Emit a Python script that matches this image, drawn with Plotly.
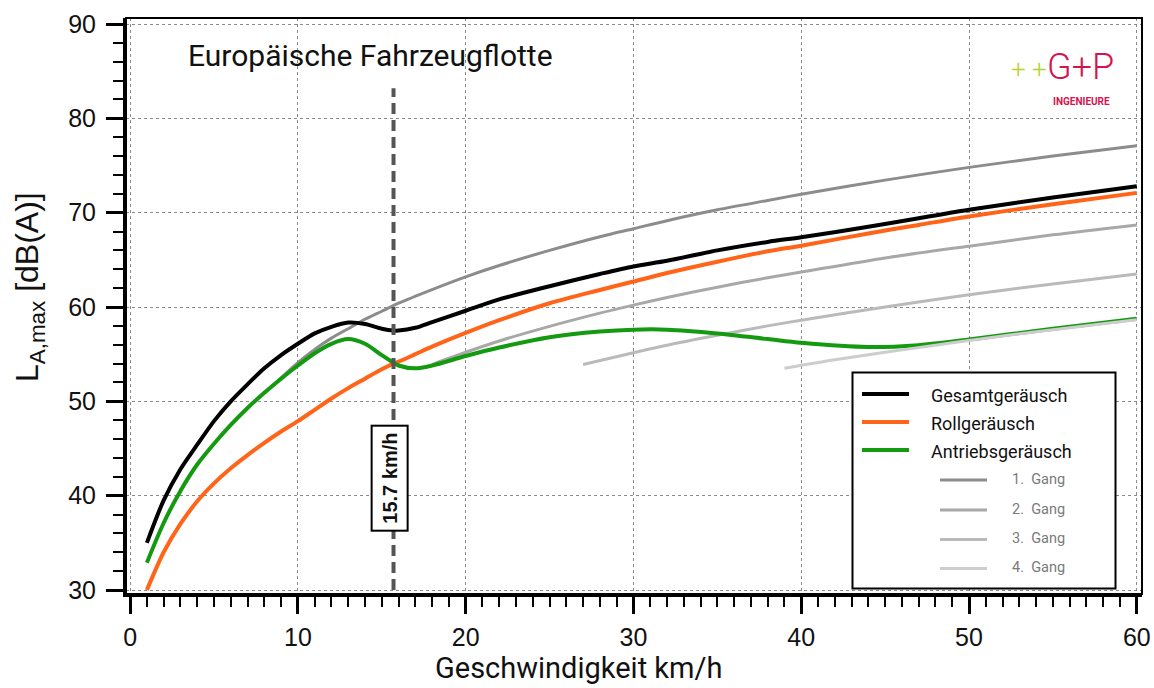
import plotly.graph_objects as go

# ---------------- data ----------------
speed = [1, 2, 3, 4, 5, 6, 7, 8, 9, 10, 11, 12, 13, 14, 15, 15.7, 16, 17, 18, 20, 22, 25, 28, 30, 32, 35, 38, 40, 44, 47, 50, 55, 60]
gesamt = [35.0, 39.5, 42.8, 45.4, 47.9, 50.0, 51.8, 53.5, 54.9, 56.1, 57.2, 57.9, 58.35, 58.2, 57.7, 57.5, 57.5, 57.8, 58.4, 59.6, 60.8, 62.2, 63.5, 64.3, 64.9, 66.0, 66.9, 67.4, 68.5, 69.4, 70.3, 71.6, 72.8]
roll = [30.0, 34.0, 37.0, 39.4, 41.3, 42.9, 44.3, 45.6, 46.8, 47.9, 49.1, 50.3, 51.4, 52.4, 53.4, 54.0, 54.2, 55.0, 55.8, 57.25, 58.6, 60.4, 61.8, 62.7, 63.6, 64.8, 65.9, 66.5, 67.8, 68.7, 69.6, 70.9, 72.1]
antrieb = [32.9, 37.1, 40.5, 43.3, 45.5, 47.5, 49.3, 50.9, 52.4, 53.8, 55.1, 56.1, 56.6, 56.1, 54.9, 54.1, 53.8, 53.5, 53.8, 54.8, 55.7, 56.8, 57.4, 57.6, 57.6, 57.2, 56.6, 56.2, 55.75, 55.95, 56.55, 57.7, 58.75]

gang1_speed = [8, 9, 10, 11, 12, 13, 14, 15, 16, 18, 20, 22, 25, 28, 30, 32, 35, 38, 40, 45, 50, 55, 60]
gang1 = [50.9, 52.5, 54.1, 55.5, 56.7, 57.7, 58.7, 59.55, 60.4, 61.85, 63.2, 64.4, 66.0, 67.45, 68.3, 69.15, 70.3, 71.3, 71.95, 73.45, 74.8, 76.0, 77.1]
gang2_speed = [18, 20, 22, 25, 28, 30, 32, 35, 38, 40, 45, 50, 55, 60]
gang2 = [53.9, 55.2, 56.4, 57.95, 59.35, 60.2, 61.0, 62.1, 63.1, 63.7, 65.2, 66.45, 67.65, 68.7]
gang3_speed = [27, 30, 32, 35, 38, 40, 45, 50, 55, 60]
gang3 = [53.9, 55.15, 55.95, 57.0, 58.0, 58.6, 60.0, 61.3, 62.45, 63.5]
gang4_speed = [39, 42, 45, 48, 50, 55, 60]
gang4 = [53.5, 54.4, 55.2, 55.95, 56.45, 57.6, 58.65]

threshold_speed = 15.7
threshold_level = [30, 83.2]

main_names = ["Gesamtgeräusch", "Rollgeräusch", "Antriebsgeräusch"]
gear_names = ["1.  Gang", "2.  Gang", "3.  Gang", "4.  Gang"]

# ---------------- styles ----------------
C_BLACK = "#000000"
C_ORANGE = "#ff6418"
C_GREEN = "#149a10"
C_GEARS = ["#8c8c8c", "#a8a8a8", "#bababa", "#cdcdcd"]
DIN = "Roboto, 'Open Sans', sans-serif"
ARIAL = "'Liberation Sans', Arial, sans-serif"

L, R, T, B = 126, 1142, 18, 594
W, H = R - L, B - T


def px(x):
    return (x - L) / W


def py(y):
    return (B - y) / H


fig = go.Figure()


def add_line(x, y, color, width):
    fig.add_trace(go.Scatter(x=x, y=y, mode="lines", showlegend=False, hoverinfo="skip",
                             line=dict(color=color, width=width, shape="spline", smoothing=0.8)))


add_line(gang1_speed, gang1, C_GEARS[0], 3)
add_line(gang2_speed, gang2, C_GEARS[1], 3)
add_line(gang3_speed, gang3, C_GEARS[2], 3)
add_line(speed, roll, C_ORANGE, 4)
add_line(speed, antrieb, C_GREEN, 4)
add_line(gang4_speed, gang4, C_GEARS[3], 3)
add_line(speed, gesamt, C_BLACK, 4)

fig.add_trace(go.Scatter(x=[threshold_speed, threshold_speed], y=threshold_level, mode="lines",
                         showlegend=False, hoverinfo="skip",
                         line=dict(color="#555555", width=4, dash="11px,6px")))

shapes = []
annotations = []

# frame
shapes.append(dict(type="rect", xref="paper", yref="paper", x0=0, x1=1, y0=0, y1=1,
                   line=dict(color="black", width=2), layer="above"))

# legend box
shapes.append(dict(type="rect", xref="paper", yref="paper", x0=px(852.5), x1=px(1115.5),
                   y0=py(588.5), y1=py(372.5), line=dict(color="black", width=2),
                   fillcolor="white", layer="above"))
main_colors = [C_BLACK, C_ORANGE, C_GREEN]
main_y = [395, 423, 451]
for name, col, yy in zip(main_names, main_colors, main_y):
    shapes.append(dict(type="line", xref="paper", yref="paper", x0=px(862), x1=px(909),
                       y0=py(yy - 1), y1=py(yy - 1), line=dict(color=col, width=4), layer="above"))
    annotations.append(dict(text=name, xref="paper", yref="paper", x=px(929), y=py(yy),
                            xanchor="left", yanchor="middle", showarrow=False,
                            font=dict(family=DIN, size=18, color="#111111")))
gear_y = [479, 509, 538.5, 567.5]
for name, col, yy in zip(gear_names, C_GEARS, gear_y):
    shapes.append(dict(type="line", xref="paper", yref="paper", x0=px(940), x1=px(987),
                       y0=py(yy + 1), y1=py(yy + 1), line=dict(color=col, width=3), layer="above"))
    annotations.append(dict(text=name, xref="paper", yref="paper", x=px(1010), y=py(yy),
                            xanchor="left", yanchor="middle", showarrow=False,
                            font=dict(family=DIN, size=14.5, color="#7a7a7a")))

# threshold label
annotations.append(dict(text="<b>15.7 km/h</b>", x=15.47, y=41.87, xref="x", yref="y",
                        textangle=-90, showarrow=False, bgcolor="white",
                        bordercolor="black", borderwidth=2, borderpad=6,
                        font=dict(family=ARIAL, size=20, color="#111111")))

# title
annotations.append(dict(text="Europäische Fahrzeugflotte", xref="paper", yref="paper",
                        x=px(370), y=py(55), xanchor="center", yanchor="middle", showarrow=False,
                        font=dict(family=DIN, size=30, color="#111111")))

# axis titles
annotations.append(dict(text="Geschwindigkeit km/h", xref="paper", yref="paper",
                        x=px(578), y=py(668), xanchor="center", yanchor="middle", showarrow=False,
                        font=dict(family=DIN, size=29, color="#111111")))
annotations.append(dict(text="L<sub>A,max</sub> [dB(A)]", xref="paper", yref="paper",
                        x=px(29), y=py(287), xanchor="center", yanchor="middle", showarrow=False,
                        textangle=-90, font=dict(family=ARIAL, size=32, color="#111111")))

# logo
annotations.append(dict(text="+ +", xref="paper", yref="paper", x=px(1029), y=py(69),
                        xanchor="center", yanchor="middle", showarrow=False,
                        font=dict(family=DIN, size=26, color="#b5d334", weight=300)))
annotations.append(dict(text="G+P", xref="paper", yref="paper", x=px(1080), y=py(67),
                        xanchor="center", yanchor="middle", showarrow=False,
                        font=dict(family=DIN, size=36, color="#d4144f", weight=300)))
annotations.append(dict(text="<b>INGENIEURE</b>", xref="paper", yref="paper", x=px(1081), y=py(101),
                        xanchor="center", yanchor="middle", showarrow=False,
                        font=dict(family=DIN, size=10, color="#d4144f")))

axis_common = dict(showline=True, linewidth=3, linecolor="black", ticks="outside",
                   tickcolor="black", tickwidth=2.5, ticklen=17, showgrid=True,
                   gridcolor="#8a8a8a", gridwidth=1, griddash="dot", zeroline=False,
                   automargin=False,
                   tickfont=dict(family=ARIAL, size=25, color="#111111"))

fig.update_layout(
    width=1154, height=688,
    margin=dict(l=L, r=1154 - R, t=T, b=688 - B, autoexpand=False),
    paper_bgcolor="white", plot_bgcolor="white",
    xaxis=dict(range=[-0.244, 60.31], tick0=0, dtick=10, ticklabelstandoff=2,
               minor=dict(dtick=1, ticks="outside", ticklen=10, tickwidth=2, tickcolor="black", showgrid=False),
               **axis_common),
    yaxis=dict(range=[29.576, 90.636], tick0=30, dtick=10, ticklabelstandoff=5,
               minor=dict(dtick=2, ticks="outside", ticklen=10, tickwidth=2, tickcolor="black", showgrid=False),
               **axis_common),
    shapes=shapes,
    annotations=annotations,
)

fig.write_html("out.html")
